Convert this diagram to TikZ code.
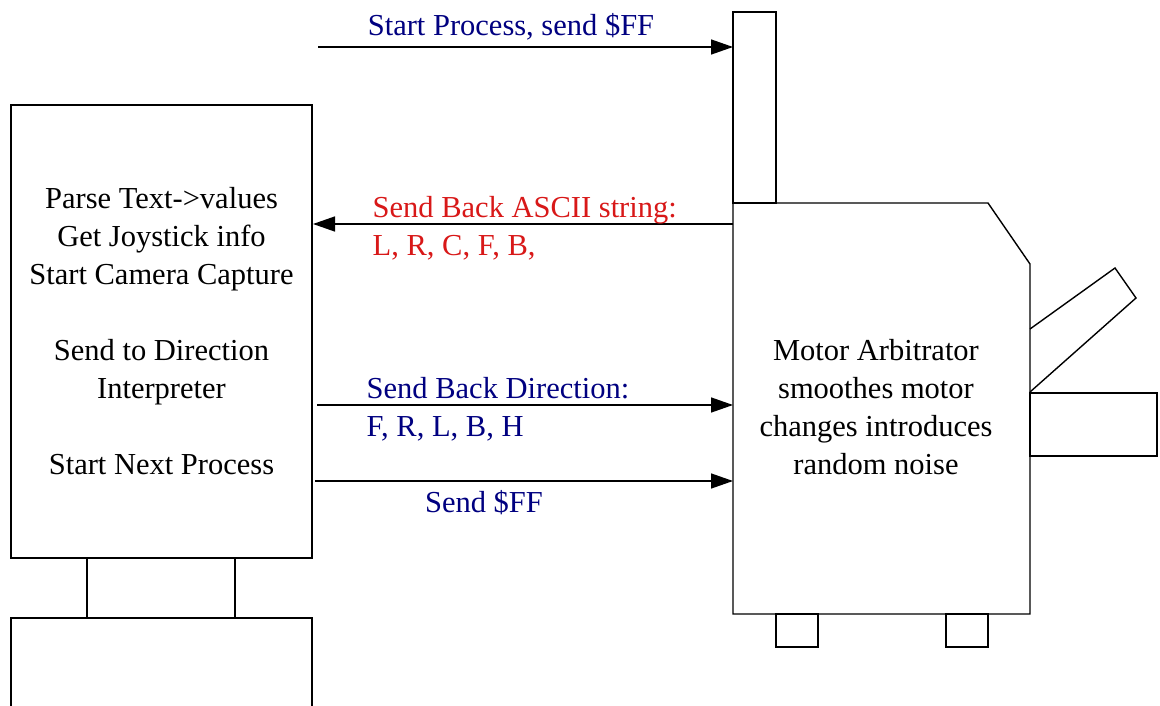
\documentclass[tikz,border=0pt]{standalone}
\usepackage{fontspec}
\setmainfont{Liberation Serif}
\usetikzlibrary{arrows.meta}
\definecolor{navy}{HTML}{000080}
\definecolor{rosso}{HTML}{D81818}

\begin{document}
\begin{tikzpicture}[x=1pt, y=-1pt, line width=1.4pt,
    font=\fontsize{30.5}{38}\selectfont,
    freccia/.style={-{Triangle[length=22pt,width=15pt]}},
    etichetta/.style={inner sep=0pt}]
        \useasboundingbox (0,0) rectangle (1160,706);
        % PC a sinistra
        \node[draw, inner sep=0pt, minimum width=301pt, minimum height=453pt, align=center] (pc) at (161.5,331.5)
            {Parse Text->values\\Get Joystick info\\Start Camera Capture\\[38pt]Send to Direction\\Interpreter\\[38pt]Start Next Process};
        \draw (87,558) -- (87,618);
        \draw (235,558) -- (235,618);
        \draw (11,712) -- (11,618) -- (312,618) -- (312,712);
        % Robot a destra
        \draw (733,12) rectangle (776,203);
        \draw (733,203) -- (988,203) -- (1030,264) -- (1030,614) -- (733,614) -- cycle;
        \draw (1030,329) -- (1115,268) -- (1136,298) -- (1030,392);
        \draw (1030,393) rectangle (1157,456);
        \draw (776,614) rectangle (818,647);
        \draw (946,614) rectangle (988,647);
        \node[align=center, inner sep=0pt] (motore) at (876,407)
            {Motor Arbitrator\\smoothes motor\\changes introduces\\random noise};
        % Estremi delle frecce
        \coordinate (a1) at (318,47);  \coordinate (b1) at (733,47);
        \coordinate (a2) at (313,224); \coordinate (b2) at (733,224);
        \coordinate (a3) at (317,405); \coordinate (b3) at (733,405);
        \coordinate (a4) at (315,481); \coordinate (b4) at (733,481);
        % Frecce
        \draw[freccia] (a1) -- (b1);
        \draw[freccia] (b2) -- (a2);
        \draw[freccia] (a3) -- (b3);
        \draw[freccia] (a4) -- (b4);
        % Etichette
        \node[etichetta, navy, anchor=base] (l1) at (511,36) {Start Process, send \$FF};
        \node[etichetta, rosso, anchor=base west] (l2) at (372,218) {Send Back ASCII string:};
        \node[etichetta, rosso, anchor=base west] (l3) at (372,255) {L, R, C, F, B,};
        \node[etichetta, navy, anchor=base west] (l4) at (366,398) {Send Back Direction:};
        \node[etichetta, navy, anchor=base west] (l5) at (366,436) {F, R, L, B, H};
        \node[etichetta, navy, anchor=base] (l6) at (484,512) {Send \$FF};
    \end{tikzpicture}
\end{document}
